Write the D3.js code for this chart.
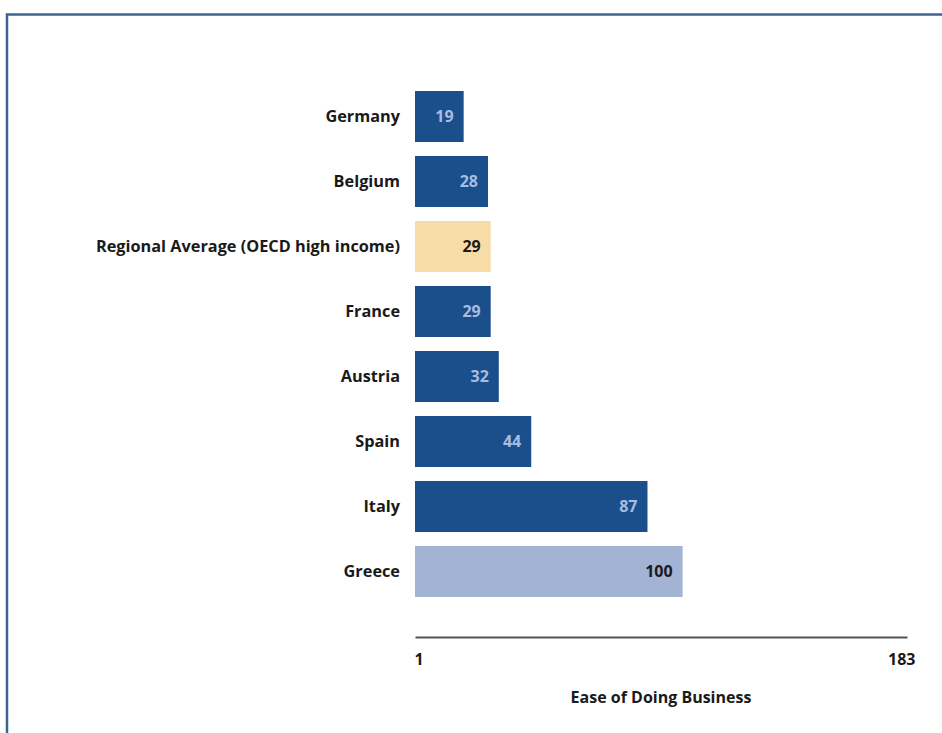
<!DOCTYPE html>
<html>
<head>
<meta charset="utf-8">
<script src="https://cdn.jsdelivr.net/npm/d3@7"></script>
<style>
  html, body { margin: 0; padding: 0; background: #ffffff; }
  svg { display: block; }
  text { font-family: "Open Sans", Lato, sans-serif; font-weight: bold; }
</style>
</head>
<body>
<svg id="chart" width="942" height="733"></svg>
<script>
// Ease of Doing Business rankings (1 = best, 183 economies)
const categories = ["Germany", "Belgium", "Regional Average (OECD high income)", "France", "Austria", "Spain", "Italy", "Greece"];
const values = [19, 28, 29, 29, 32, 44, 87, 100];
const kinds = ["peer", "peer", "average", "peer", "peer", "peer", "peer", "focus"];
const axisTicks = [1, 183];
const axisTitle = "Ease of Doing Business";

const fills = { peer: "#1b4f8b", average: "#f7dca8", focus: "#a2b3d3" };
const valueInk = { peer: "#a7bde0", average: "#1a1a1a", focus: "#1a1a1a" };

const svg = d3.select("#chart");
const W = 942, H = 733;

// frame
svg.append("path")
  .attr("d", `M7,${H} V14.5 H${W}`)
  .attr("fill", "none")
  .attr("stroke", "#3d6494")
  .attr("stroke-width", 2.5);

const x = d3.scaleLinear().domain([1, 183]).range([415, 907]);
const y = d3.scaleBand().domain(categories).range([84, 604])
  .paddingInner(14 / 65).paddingOuter(7 / 65);

const rows = categories.map((c, i) => ({ name: c, value: values[i], kind: kinds[i] }));

const g = svg.append("g");

g.selectAll("rect.bar").data(rows).join("rect")
  .attr("class", "bar")
  .attr("x", x(1))
  .attr("y", d => y(d.name))
  .attr("width", d => x(d.value) - x(1))
  .attr("height", y.bandwidth())
  .attr("fill", d => fills[d.kind]);

g.selectAll("text.cat").data(rows).join("text")
  .attr("class", "cat")
  .attr("x", 400)
  .attr("y", d => y(d.name) + y.bandwidth() / 2)
  .attr("dy", "0.35em")
  .attr("text-anchor", "end")
  .attr("font-size", 16.3)
  .attr("fill", "#1a1a1a")
  .text(d => d.name);

g.selectAll("text.val").data(rows).join("text")
  .attr("class", "val")
  .attr("x", d => x(d.value) - 10)
  .attr("y", d => y(d.name) + y.bandwidth() / 2)
  .attr("dy", "0.35em")
  .attr("text-anchor", "end")
  .attr("font-size", 16)
  .attr("fill", d => valueInk[d.kind])
  .text(d => d.value);

// axis
const axisY = 637;
const axis = d3.axisBottom(x).tickValues(axisTicks).tickSize(0).tickPadding(17);
const ag = svg.append("g").attr("transform", `translate(0,${axisY})`).call(axis);
ag.select(".domain").attr("stroke", "#555").attr("stroke-width", 2);
ag.selectAll(".tick text")
  .attr("font-size", 16)
  .attr("font-family", "'Open Sans', sans-serif")
  .attr("font-weight", "bold")
  .attr("fill", "#1a1a1a")
  .attr("text-anchor", (d, i) => i === 0 ? "start" : "end")
  .attr("dx", (d, i) => i === 0 ? -1 : 8);

svg.append("text")
  .attr("x", 661)
  .attr("y", 697)
  .attr("dy", "0.35em")
  .attr("text-anchor", "middle")
  .attr("font-size", 16)
  .attr("fill", "#1a1a1a")
  .text(axisTitle);
</script>
</body>
</html>
